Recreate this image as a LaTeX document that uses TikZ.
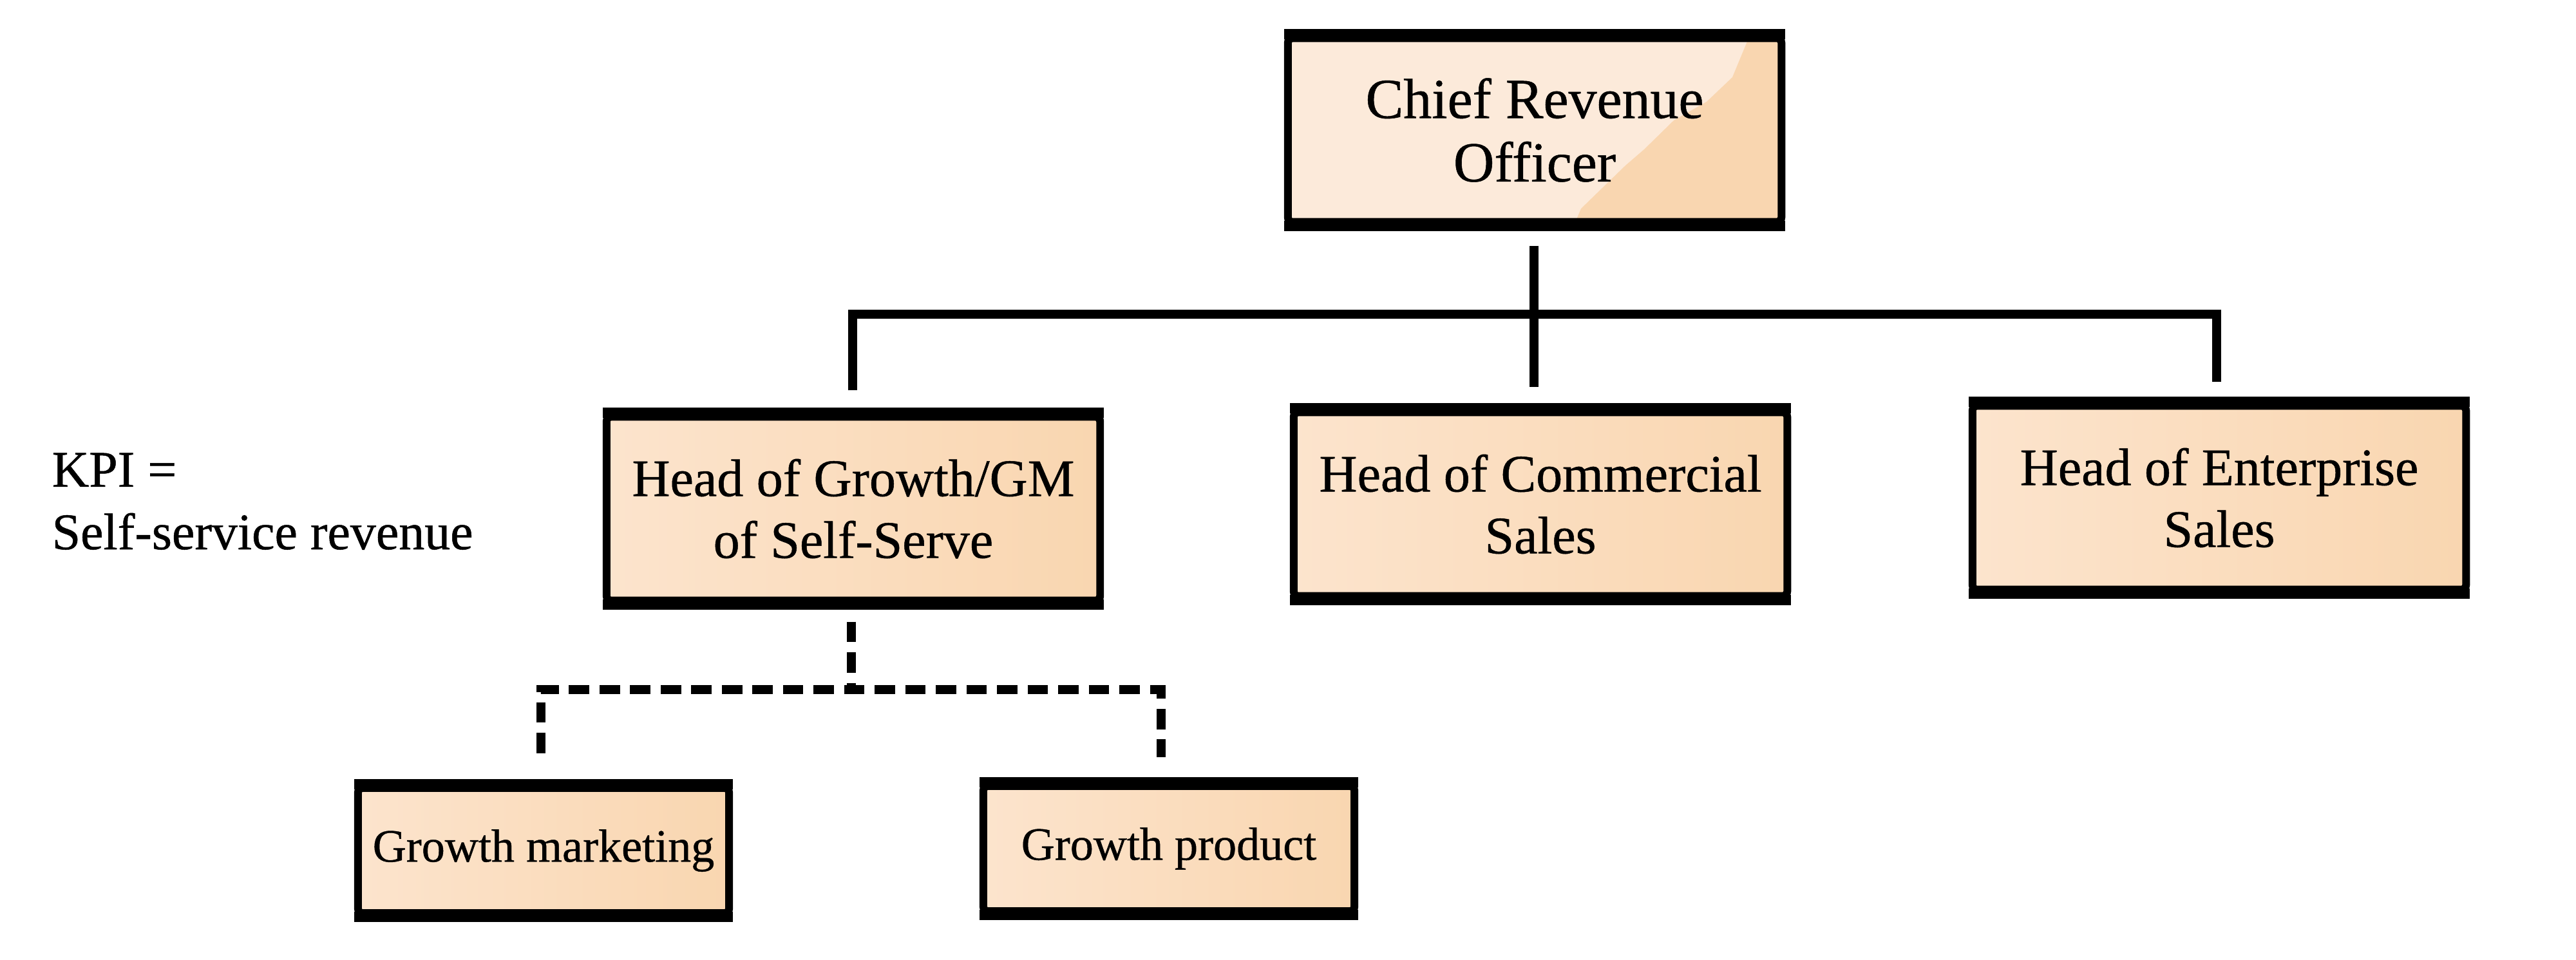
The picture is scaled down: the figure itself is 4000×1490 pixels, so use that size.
\documentclass[tikz,border=0pt]{standalone}
\usepackage{fontspec}
\setmainfont{Liberation Serif}
\newfontfamily\boxfont{Liberation Serif}[FakeBold=0.6]
\usetikzlibrary{calc}
\definecolor{peachlight}{HTML}{FCE4CD}
\definecolor{peachdark}{HTML}{F9D6B0}
\definecolor{peachpale}{HTML}{FCEADA}
\begin{document}
\begin{tikzpicture}[x=0.01cm,y=-0.01cm,
  boxbase/.style={draw=black, line width=3.41pt, rounded corners=2pt, align=center, inner sep=0pt,
    minimum width=7.66cm, minimum height=2.85cm, font=\boxfont\fontsize{23.3}{27.3}\selectfont},
  box/.style={boxbase, left color=peachlight, right color=peachdark},
  smallbox/.style={box, minimum width=5.76cm, minimum height=1.94cm, font=\boxfont\fontsize{20.5}{24}\selectfont},
  edge/.style={line width=4.55pt, draw=black},
  conn/.style={line width=4pt, draw=black},
  dconn/.style={line width=4.2pt, draw=black, dash pattern=on 9pt off 4.5pt},
  kpitext/.style={align=left, inner sep=0pt, font=\boxfont\fontsize{22.7}{27.6}\selectfont}]
\useasboundingbox (0,0) rectangle (4000,1490);
\fill[white] (0,0) rectangle (4000,1490);

% watercolour fill of the top box (pale wash with a darker lower-right area)
\fill[peachpale] (2000,59.5) rectangle (2766,344.5);
\begin{scope}
  \clip (2000,59.5) rectangle (2766,344.5);
  \fill[peachdark] (2719,50) -- (2690,120) -- (2650,158) -- (2599,187) -- (2553,232)
    -- (2524,257) -- (2490,290) -- (2455,324) -- (2444,350) -- (2780,350) -- (2780,50) -- cycle;
\end{scope}

% boxes
\node[boxbase, font=\boxfont\fontsize{25}{28}\selectfont] (cro) at (2383,202) {Chief Revenue\\Officer};
\node[box] (hg) at (1325,790) {Head of Growth/GM\\of Self-Serve};
\node[box] (hc) at (2392,783) {Head of Commercial\\Sales};
\node[box] (he) at (3446,773) {Head of Enterprise\\Sales};
\node[smallbox] (gm) at (844,1321) {Growth marketing};
\node[smallbox] (gp) at (1815,1318) {Growth product};

% heavier top and bottom edges of the boxes
\foreach \n in {cro,hg,hc,he,gm,gp}{
  \draw[edge] (\n.north west) -- (\n.north east);
  \draw[edge] (\n.south west) -- (\n.south east);
}

% KPI note
\node[kpitext, anchor=base west] (kpi) at (80,853) {KPI =\\Self-service revenue};

% solid connectors
\coordinate (bus) at (2382,488);
\draw[conn] ($(cro.south)+(-1,31)$) -- ($(cro.south |- hc.north)+(-1,-33)$);
\draw[conn] ($(hg.north)+(-1,-35)$) -- ($(hg.north |- bus)+(-1,0)$) -- ($(he.north |- bus)+(-4,0)$) -- ($(he.north)+(-4,-31)$);

% dashed connectors
\coordinate (dbus) at (1322,1071);
\draw[dconn] ($(hg.south)+(-3,27)$) -- ($(hg.south |- dbus)+(-3,-6)$);
\draw[dconn] ($(gm.north)+(-4,-48)$) -- ($(gm.north |- dbus)+(-4,0)$) -- ($(gp.north |- dbus)+(-12,0)$) -- ($(gp.north)+(-12,-39)$);
\end{tikzpicture}
\end{document}
